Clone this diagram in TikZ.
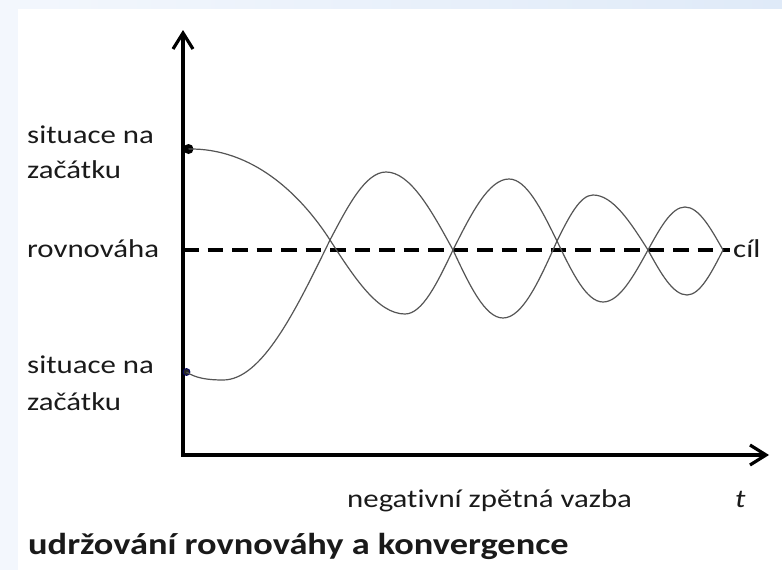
\documentclass[tikz,border=0pt]{standalone}
\usepackage{fontspec}
\setmainfont{Carlito}[FakeStretch=1.2, Ligatures=NoCommon]
\usetikzlibrary{arrows.meta}
\definecolor{bgleft}{HTML}{F3F7FD}
\definecolor{bgtop}{HTML}{DFEAF8}
\definecolor{txt}{HTML}{1A1A1A}
\definecolor{curvec}{HTML}{555555}
\tikzset{
  axisline/.style={line width=3.2pt, line join=miter, black,
    {Straight Barb[length=16pt,width=20pt]}-{Straight Barb[length=16pt,width=20pt]}},
  goalline/.style={line width=4.5pt, black, dash pattern=on 15.5pt off 9pt},
  wave/.style={line width=1.2pt, curvec},
  lbl/.style={anchor=base west, inner sep=0pt, text=txt, font=\fontsize{25.7}{30}\selectfont},
  ttl/.style={lbl, font=\fontsize{30.3}{34}\selectfont\bfseries},
  dotbig/.style={circle, fill=black, inner sep=0pt, minimum size=10pt},
  dotsmall/.style={circle, fill=black!85, draw=blue!40!black, line width=0.8pt, inner sep=0pt, minimum size=7pt}
}
\begin{document}
\begin{tikzpicture}[x=1pt,y=-1pt]
\useasboundingbox (0,0) rectangle (782,570);
\fill[bgleft] (0,0) rectangle (782,570);
\shade[left color=bgleft, right color=bgtop] (0,0) rectangle (782,9);
\fill[white] (18,9) rectangle (782,570);

% axes
\coordinate (O) at (183,455);
\coordinate (ytip) at (183,30);
\coordinate (xtip) at (769,455);

% goal line
\coordinate (g0) at (183,250);
\coordinate (g1) at (730,250);
\draw[goalline] (g0) -- (g1);

\draw[axisline] (ytip) -- (O) -- (xtip);

% start dots
\node[dotbig] (sA) at (188.5,149) {};
\node[dotsmall] (sB) at (186.5,372) {};
\coordinate (endp) at (723,250);

% curve A (starts high)
\draw[wave] (sA.center)
  .. controls (252,148) and (300,193.5) .. (330,240)
  .. controls (354.5,277.9) and (377.9,314) .. (405,314)
  .. controls (422.4,314) and (437.3,282.8) .. (453,250)
  .. controls (471.3,213.6) and (488.7,179) .. (509,179)
  .. controls (526.4,179) and (541.3,209.2) .. (557,241)
  .. controls (572.0,272.3) and (586.4,302) .. (603,302)
  .. controls (619.3,302) and (633.3,276.6) .. (648,250)
  .. controls (660.1,228.0) and (671.6,207) .. (685,207)
  .. controls (698.8,207) and (710.6,228.0) .. (endp);

% curve B (starts low)
\draw[wave] (sB.center)
  .. controls (196,378.5) and (209,380) .. (223,380)
  .. controls (261.7,380) and (295.1,311.7) .. (330,240)
  .. controls (348.3,205.2) and (365.7,172) .. (386,172)
  .. controls (410.2,172) and (431.2,210.0) .. (453,250)
  .. controls (469.3,284.8) and (484.9,318) .. (503,318)
  .. controls (522.5,318) and (539.4,280.4) .. (557,241)
  .. controls (568.7,217.4) and (580.0,195) .. (593,195)
  .. controls (612.9,195) and (630.1,221.8) .. (648,250)
  .. controls (660.7,273.1) and (672.9,295) .. (687,295)
  .. controls (700.0,295) and (711.3,273.1) .. (endp);

% labels
\node[lbl] (l1a) at (27,143) {situace na};
\node[lbl] (l1b) at (27,178) {začátku};
\node[lbl] (eq) at (27,257) {rovnováha};
\node[lbl] (goal) at (733,257) {cíl};
\node[lbl] (l2a) at (27,373) {situace na};
\node[lbl] (l2b) at (27,410) {začátku};
\node[lbl] (neg) at (347,507) {negativní zpětná vazba};
\node[lbl] (tlab) at (735,507) {\itshape t};
\node[ttl] (title) at (28,554) {udržování rovnováhy a konvergence};
\end{tikzpicture}
\end{document}
